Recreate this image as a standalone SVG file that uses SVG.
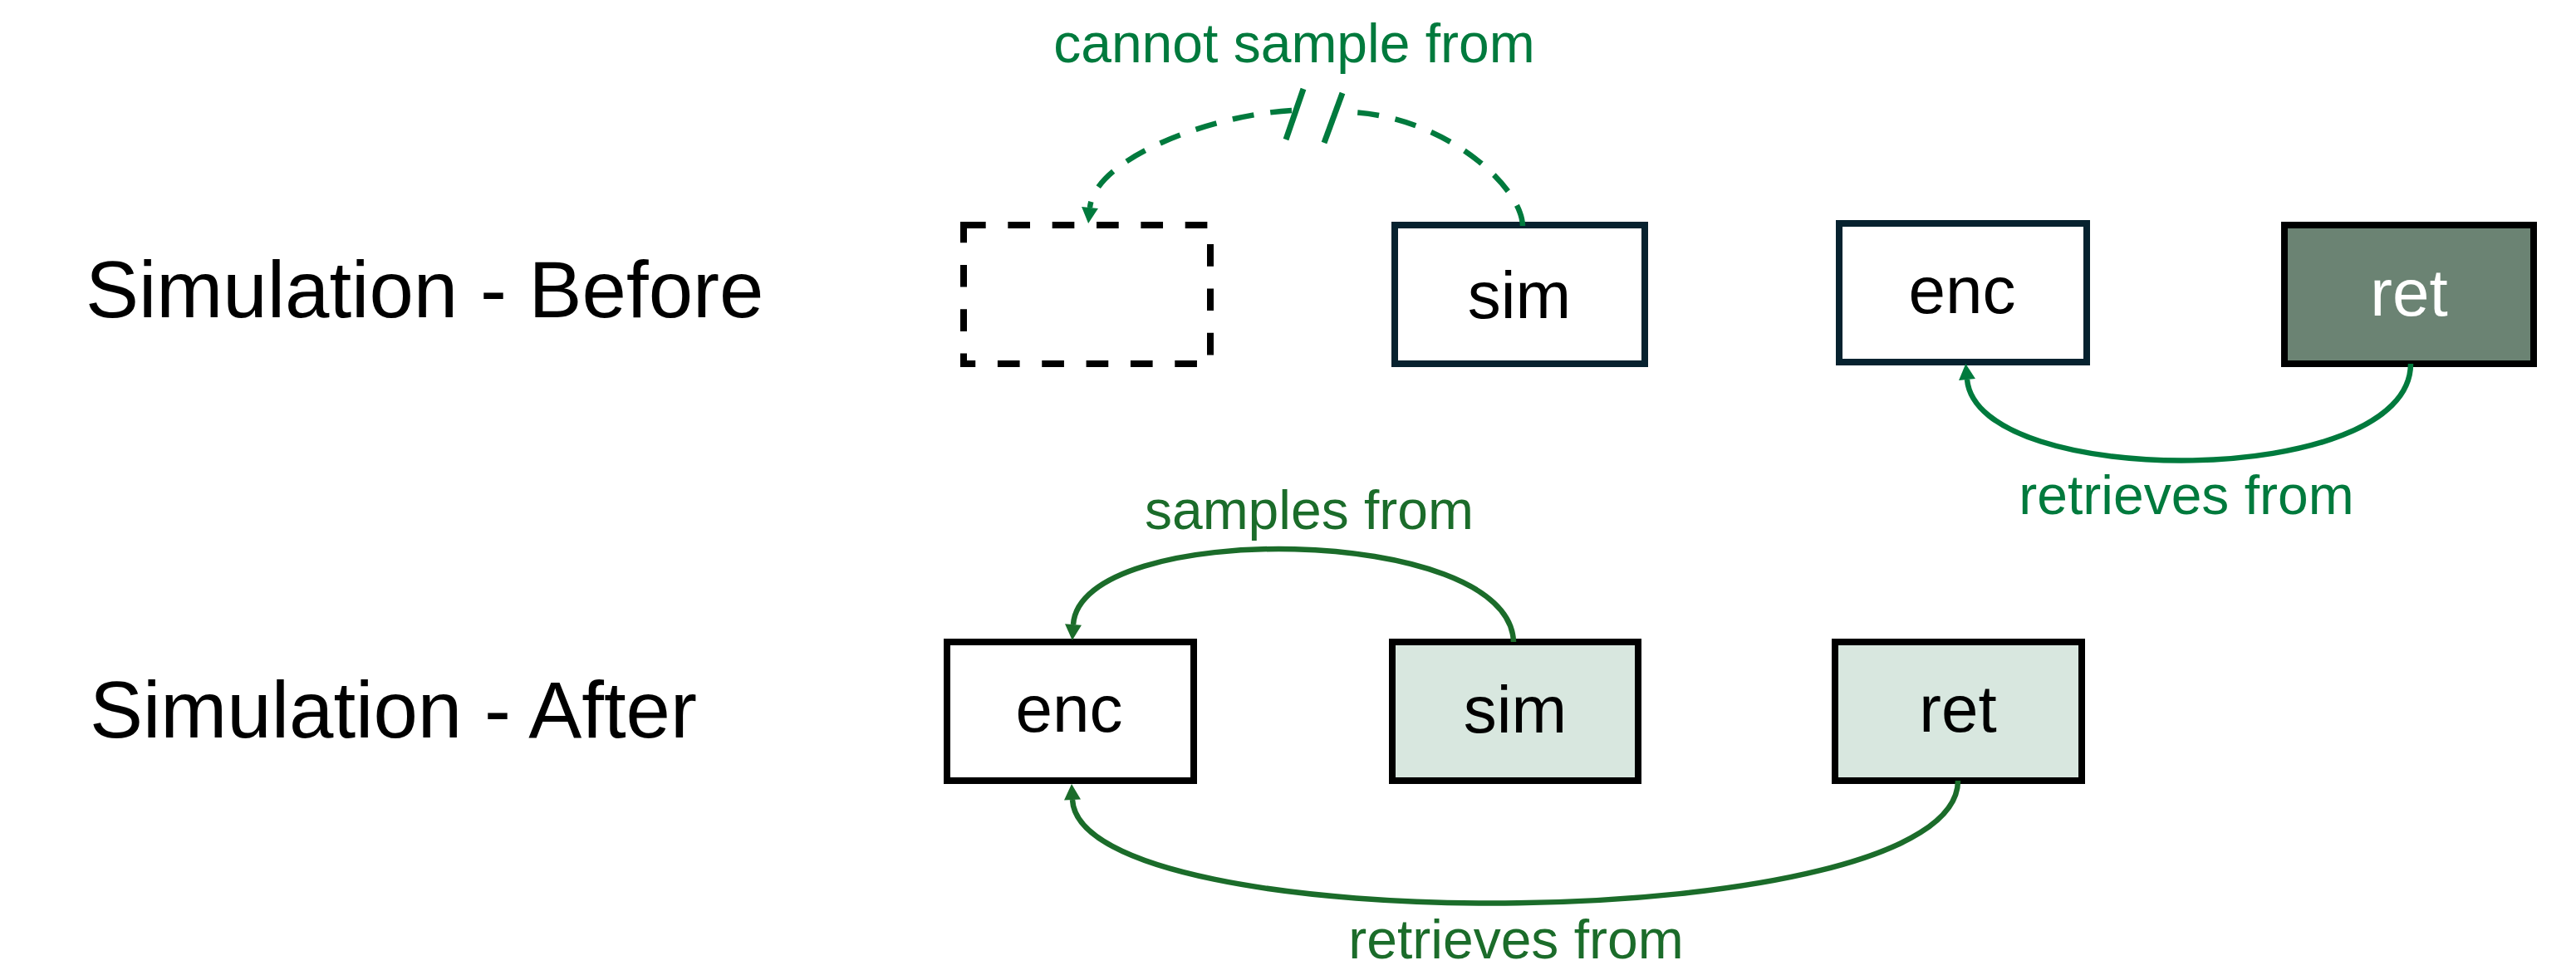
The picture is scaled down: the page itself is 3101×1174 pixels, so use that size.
<svg xmlns="http://www.w3.org/2000/svg" width="3101" height="1174" viewBox="0 0 3101 1174">
  <style>
    text { font-family: "Liberation Sans", Arial, Helvetica, sans-serif; }
    .title { font-size: 96px; fill: #000000; }
    .nlabel { font-size: 80px; text-anchor: middle; fill: #000000; }
    .elabel { font-size: 66px; text-anchor: middle; }
    .g1 { fill: #007a3d; }
    .g2 { fill: #1b6c2a; }
    .box { stroke-width: 8; }
    .navy { fill: #ffffff; stroke: #07222f; }
    .blk { stroke: #000000; }
    .edge1 { fill: none; stroke: #007a3d; stroke-width: 6.5; }
    .edge2 { fill: none; stroke: #1b6c2a; stroke-width: 6.5; }
    .dash { stroke-dasharray: 26 20; }
  </style>
  <defs>
    <marker id="ah1" markerUnits="userSpaceOnUse" markerWidth="20" markerHeight="20" viewBox="0 0 19 20" refX="0" refY="10" orient="auto">
      <path d="M0,0 L19,10 L0,20 z" fill="#007a3d"/>
    </marker>
    <marker id="ah2" markerUnits="userSpaceOnUse" markerWidth="20" markerHeight="20" viewBox="0 0 19 20" refX="0" refY="10" orient="auto">
      <path d="M0,0 L19,10 L0,20 z" fill="#1b6c2a"/>
    </marker>
  </defs>
  <rect x="0" y="0" width="3101" height="1174" fill="#ffffff"/>

  <g id="row-titles">
    <text class="title" x="103" y="382">Simulation - Before</text>
    <text class="title" x="108" y="888">Simulation - After</text>
  </g>

  <g id="before-placeholder">
    <rect x="1160" y="271" width="297" height="167" fill="none" stroke="#000000" stroke-width="8" stroke-dasharray="26.67 26.67"/>
  </g>
  <g id="before-sim">
    <rect class="box navy" x="1679" y="271" width="301" height="167"/>
    <text class="nlabel" x="1829" y="383">sim</text>
  </g>
  <g id="before-enc">
    <rect class="box navy" x="2214" y="269" width="298" height="167"/>
    <text class="nlabel" x="2362" y="377">enc</text>
  </g>
  <g id="before-ret">
    <rect class="box blk" x="2750" y="271" width="300" height="167" fill="#6b8373"/>
    <text class="nlabel" x="2900" y="380" style="fill:#ffffff">ret</text>
  </g>

  <g id="after-enc">
    <rect class="box blk" x="1140" y="773" width="297" height="167" fill="#ffffff"/>
    <text class="nlabel" x="1287" y="881">enc</text>
  </g>
  <g id="after-sim">
    <rect class="box blk" x="1676" y="773" width="296" height="167" fill="#d8e7df"/>
    <text class="nlabel" x="1824" y="882">sim</text>
  </g>
  <g id="after-ret">
    <rect class="box blk" x="2209" y="773" width="297" height="167" fill="#d8e7df"/>
    <text class="nlabel" x="2357" y="881">ret</text>
  </g>

  <g id="connectors">
    <!-- before: sim cannot sample from (placeholder) -->
    <path class="edge1 dash" d="M1833,272 C1832,225 1740,140 1625,135"/>
    <path class="edge1 dash" d="M1555,133 C1460,138 1318,190 1312,250" marker-end="url(#ah1)"/>
    <line x1="1569" y1="107" x2="1548" y2="168" stroke="#007a3d" stroke-width="7"/>
    <line x1="1616" y1="112" x2="1594" y2="172" stroke="#007a3d" stroke-width="7"/>
    <text class="elabel g1" x="1558" y="75">cannot sample from</text>

    <!-- before: ret retrieves from enc -->
    <path class="edge1" d="M2902,438 C2902,590 2380,590 2368,457" marker-end="url(#ah1)"/>
    <text class="elabel g1" x="2632" y="619">retrieves from</text>

    <!-- after: sim samples from enc -->
    <path class="edge2" d="M1822,773 C1818,630 1300,625 1292,752" marker-end="url(#ah2)"/>
    <text class="elabel g2" x="1576" y="637">samples from</text>

    <!-- after: ret retrieves from enc -->
    <path class="edge2" d="M2357,940 C2357,1130 1300,1135 1291,963" marker-end="url(#ah2)"/>
    <text class="elabel g2" x="1825" y="1154">retrieves from</text>
  </g>
</svg>
